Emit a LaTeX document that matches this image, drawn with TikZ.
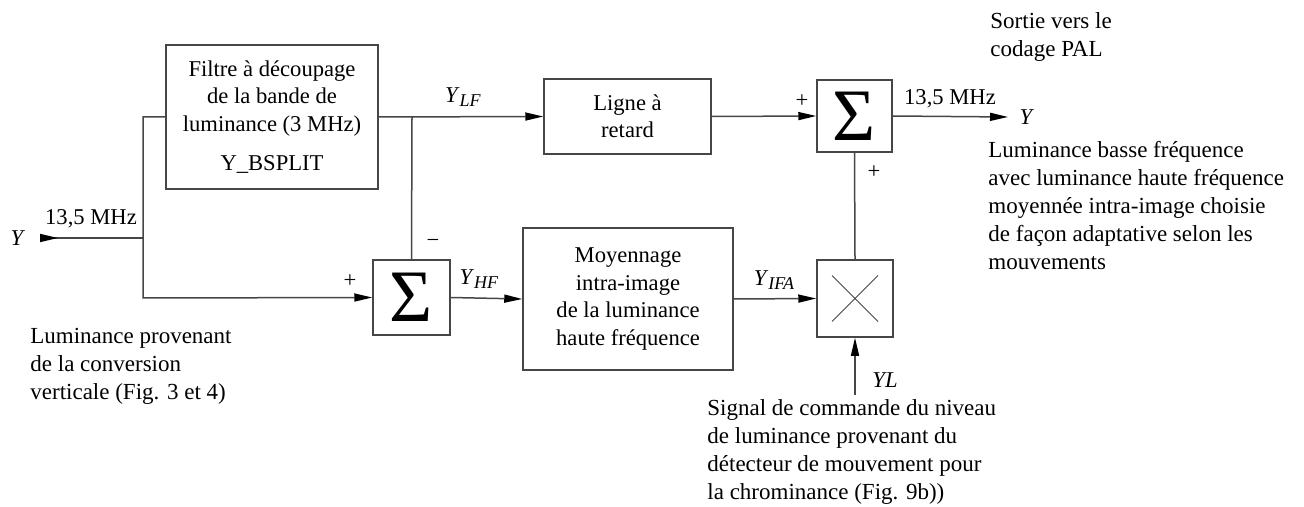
\documentclass[tikz,border=0pt]{standalone}
\usepackage{fontspec}
\setmainfont{LiberationSerif}[Extension=.ttf, UprightFont=*-Regular, ItalicFont=*-Italic, BoldFont=*-Bold, BoldItalicFont=*-BoldItalic]
\usetikzlibrary{arrows.meta,calc}
\definecolor{ln}{RGB}{70,70,70}
\newcommand{\subsc}[2]{\textit{#1}\raisebox{-0.45ex}{\small\textit{#2}}}
\tikzset{
  blk/.style={draw=ln, line width=0.75pt, inner sep=0pt, align=center, font=\fontsize{11.3}{13.7}\selectfont},
  wire/.style={draw=ln, line width=0.75pt},
  arr/.style={wire, -{Triangle[length=9pt,width=4pt,color=black]}},
  lbl/.style={inner sep=0pt, font=\fontsize{11.3}{13.7}\selectfont},
  txt/.style={inner sep=0pt, align=left, anchor=north west, font=\fontsize{11.5}{14}\selectfont},
  sig/.style={font=\fontsize{37}{37}\selectfont}
}
\begin{document}
\begin{tikzpicture}[x=0.5pt,y=-0.5pt]
\useasboundingbox (0,0) rectangle (1304,507);
% blocks
\node[blk, minimum width=106pt, minimum height=72pt] (filt) at (272,117)
  {Filtre à découpage\\de la bande de\\luminance (3 MHz)\\[6pt]Y\_BSPLIT};
\node[blk, minimum width=83.5pt, minimum height=37.5pt] (lig) at (627.5,116.5) {Ligne à\\retard};
\node[blk, minimum width=37.5pt, minimum height=36pt] (s2) at (854.5,116) {};
\node[sig] at (s2.center) {Σ};
\node[blk, minimum width=38.5pt, minimum height=37.5pt] (s1) at (411.5,297.5) {};
\node[sig] at (s1.center) {Σ};
\node[blk, minimum width=105pt, minimum height=71pt] (moy) at (628,299)
  {Moyennage\\intra-image\\de la luminance\\haute fréquence};
\node[blk, minimum width=38pt, minimum height=38.5pt] (mul) at (855,298.5) {};
\draw[ln, line width=0.5pt] ($(mul.center)+(-23,-23)$) -- ($(mul.center)+(23,23)$)
  ($(mul.center)+(-23,23)$) -- ($(mul.center)+(23,-23)$);
% coordinates
\coordinate (yin) at (40,238);
\coordinate (j1) at (143,238);
\coordinate (jb) at (143,298);
\coordinate (jt) at (412,117);
\coordinate (yout) at (1008,117);
\coordinate (yl) at (855,395);
% wires
\draw[wire, {Triangle[reversed,length=9pt,width=4pt,color=black]}-] (yin) -- (j1);
\draw[arr] (filt.west) -| (jb) -- (s1.west);
\draw[arr] (filt.east) -- (lig.west);
\draw[wire] (jt) -- (s1.north);
\draw[arr] (lig.east) -- (s2.west);
\draw[arr] (s2.east) -- (yout);
\draw[wire] (s2.south) -- (mul.north);
\draw[arr] (s1.east) -- (moy.west);
\draw[arr] (moy.east) -- (mul.west);
\draw[arr] (yl) -- (mul.south);
% labels
\node[lbl] (ylab) at (18,238) {\textit{Y}};
\node[lbl] (f1) at (91,219) {13,5 MHz};
\node[lbl] (p1) at (350,281) {+};
\node[lbl] (m1) at (433,243) {−};
\node[lbl] (ylf) at (463,97) {\subsc{Y}{LF}};
\node[lbl] (yhf) at (479,279) {\subsc{Y}{HF}};
\node[lbl] (yifa) at (774,280) {\subsc{Y}{IFA}};
\node[lbl] (p2) at (802,101) {+};
\node[lbl] (p3) at (874,172) {+};
\node[lbl] (f2) at (950,99) {13,5 MHz};
\node[lbl] (yo) at (1027,117) {\textit{Y}};
\node[lbl] (yll) at (885,380) {\textit{YL}};
% texts
\node[txt] (sortie) at (990,12) {Sortie vers le\\codage PAL};
\node[txt] (lumb) at (988,141) {Luminance basse fréquence\\avec luminance haute fréquence\\moyennée intra-image choisie\\de façon adaptative selon les\\mouvements};
\node[txt] (sigc) at (707,399) {Signal de commande du niveau\\de luminance provenant du\\détecteur de mouvement pour\\la chrominance (Fig. 9b))};
\node[txt] (lump) at (30,328) {Luminance provenant\\de la conversion\\verticale (Fig. 3 et 4)};
\end{tikzpicture}
\end{document}
